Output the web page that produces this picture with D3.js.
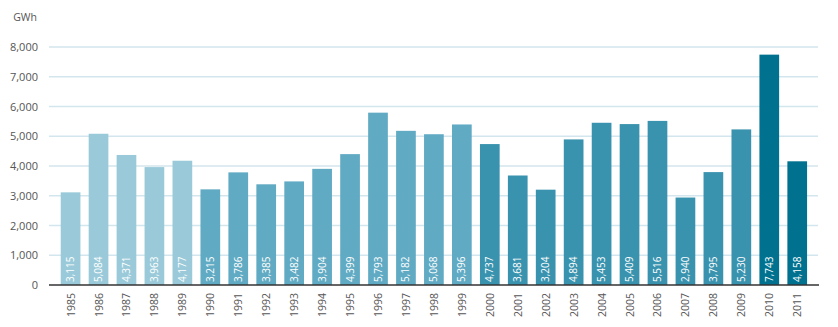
<!DOCTYPE html>
<html><head><meta charset="utf-8">
<script src="https://cdn.jsdelivr.net/npm/d3@7"></script>
<style>body{margin:0;background:#fff;} svg{display:block;} text{font-family:"Open Sans",sans-serif;}</style>
</head><body><svg id="c" width="838" height="327"></svg>
<script>
const years = ["1985","1986","1987","1988","1989","1990","1991","1992","1993","1994","1995","1996","1997","1998","1999","2000","2001","2002","2003","2004","2005","2006","2007","2008","2009","2010","2011"];
const values = [3115,5084,4371,3963,4177,3215,3786,3385,3482,3904,4399,5793,5182,5068,5396,4737,3681,3204,4894,5453,5409,5516,2940,3795,5230,7743,4158];
const groups = [0,0,0,0,0,1,1,1,1,1,1,1,1,1,1,2,2,2,2,2,2,2,2,2,2,3,3];
const groupColors = ["#9acad9","#61aac3","#3a93ae","#00728f"];
const yTicks = [0,1000,2000,3000,4000,5000,6000,7000,8000];
const unit = "GWh";

const svg = d3.select("#c");
const y = d3.scaleLinear().domain([0,8000]).range([285,47]);
const x = d3.scaleBand().domain(years).range([56.6,811.2]).paddingInner(0.295).paddingOuter(0.1475);
const fmt = d3.format(",");

// gridlines
svg.append("g").selectAll("line").data(yTicks.slice(1)).join("line")
  .attr("x1",49).attr("x2",818).attr("y1",d=>y(d)).attr("y2",d=>y(d))
  .attr("stroke","#d3e6ed").attr("stroke-width",1.3);

// y axis labels
const yAxis = d3.axisLeft(y).tickValues(yTicks).tickFormat(fmt).tickSize(0).tickPadding(0);
const gy = svg.append("g").attr("transform","translate(38,0)").call(yAxis);
gy.select(".domain").remove();
gy.selectAll("text").attr("font-size",11).attr("fill","#555").attr("font-family","'Open Sans',sans-serif");

svg.append("text").attr("x",37).attr("y",21).attr("text-anchor","end")
  .attr("font-size",10.5).attr("fill","#555").text(unit);

// bars
svg.append("g").selectAll("rect").data(values).join("rect")
  .attr("x",(d,i)=>x(years[i])).attr("width",x.bandwidth())
  .attr("y",d=>y(d)).attr("height",d=>y(0)-y(d))
  .attr("fill",(d,i)=>groupColors[groups[i]]);

// value labels
svg.append("g").selectAll("text").data(values).join("text")
  .attr("transform",(d,i)=>`translate(${x(years[i])+x.bandwidth()/2+3.5},282) rotate(-90)`)
  .attr("text-anchor","start").attr("font-size",10).attr("fill","#fff").text(d=>fmt(d));

// baseline
svg.append("line").attr("x1",49).attr("x2",819).attr("y1",y(0)).attr("y2",y(0))
  .attr("stroke","#333").attr("stroke-width",1.3);

// x axis labels
const xAxis = d3.axisBottom(x).tickSize(0).tickPadding(0);
const gx = svg.append("g").attr("transform","translate(0,0)").call(xAxis);
gx.select(".domain").remove();
gx.selectAll(".tick text")
  .attr("transform",function(){return "rotate(-90)";})
  .attr("x",-293).attr("y",4).attr("dy",0)
  .attr("text-anchor","end").attr("font-size",10.5).attr("fill","#555")
  .attr("font-family","'Open Sans',sans-serif");
gx.selectAll(".tick").attr("transform",d=>`translate(${x(d)+x.bandwidth()/2},0)`);
</script></body></html>
